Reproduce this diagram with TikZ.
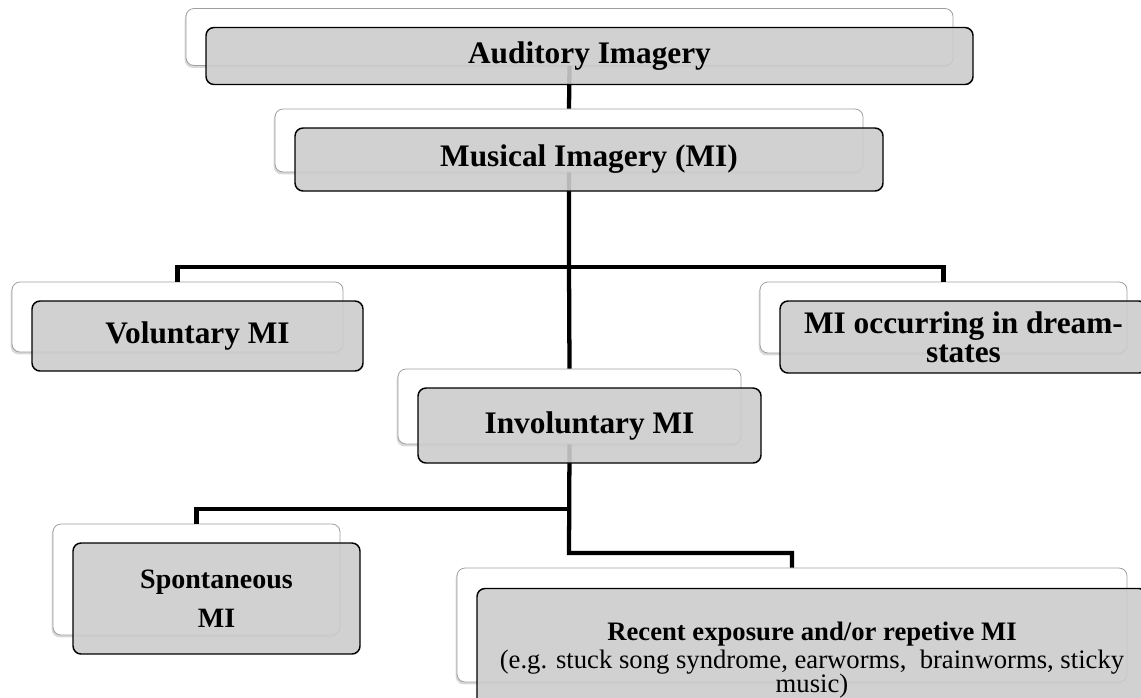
\documentclass[tikz,border=0pt]{standalone}
\usepackage{fontspec}
\setmainfont{Liberation Serif}
\usetikzlibrary{shadows}
\definecolor{boxgray}{RGB}{204,204,204}

\begin{document}
\begin{tikzpicture}[x=0.75pt,y=-0.75pt] % 1 unit = 1 px of the layout
\tikzstyle{back} = [draw=gray!75, line width=0.6pt, fill=white, rounded corners=6pt, drop shadow={shadow xshift=-1pt, shadow yshift=-1.8pt, opacity=0.3}] % white card behind
\tikzstyle{front} = [draw=black, line width=1.1pt, fill=boxgray, fill opacity=0.9, text opacity=1, rounded corners=6pt, align=center, inner sep=2pt, font=\bfseries\fontsize{23.5}{22}\selectfont] % grey card with text
\tikzstyle{conn} = [line width=3.2pt] % connector line
\useasboundingbox (0,0) rectangle (1141,697);

% back cards
\node[back, minimum width=575.25pt, minimum height=42.75pt] (audB) at (569.5,37) {};
\node[back, minimum width=441pt, minimum height=47.25pt] (musB) at (569,140.5) {};
\node[back, minimum width=248.25pt, minimum height=52.5pt] (volB) at (177.5,317) {};
\node[back, minimum width=275.25pt, minimum height=53.25pt] (dreB) at (943.5,317.5) {};
\node[back, minimum width=257.25pt, minimum height=56.25pt] (invB) at (569.5,406.5) {};
\node[back, minimum width=215.25pt, minimum height=83.25pt] (spoB) at (196.5,579.5) {};
\node[back, minimum width=502.5pt, minimum height=85.5pt] (recB) at (792,625) {};

% branch points
\coordinate (jMus) at (569,267);
\coordinate (jSpo) at (569,509);
\coordinate (jRec) at (569,553);

\draw[conn] (audB.south) -- (musB.north);
\draw[conn] (musB.south) -- (jMus) -- (invB.north);
\draw[conn] (jMus) -| (volB.north);
\draw[conn] (jMus) -| (dreB.north);
\draw[conn] (invB.south) -- (jRec) -| (recB.north);
\draw[conn] (jSpo) -| (spoB.north);

% front cards
\node[front, minimum width=575.25pt, minimum height=42.75pt] (audF) at ([shift={(20,19)}]audB) {Auditory Imagery};
\node[front, minimum width=441pt, minimum height=47.25pt] (musF) at ([shift={(20,19)}]musB) {Musical Imagery (MI)};
\node[front, minimum width=248.25pt, minimum height=52.5pt] (volF) at ([shift={(20,19)}]volB) {Voluntary MI};
\node[front, minimum width=275.25pt, minimum height=54pt] (dreF) at ([shift={(20,19.5)}]dreB) {MI occurring in dream-\\states};
\node[front, minimum width=257.25pt, minimum height=56.25pt] (invF) at ([shift={(20,19)}]invB) {Involuntary MI};
\node[front, minimum width=215.25pt, minimum height=83.25pt, font=\bfseries\fontsize{21}{29}\selectfont] (spoF) at ([shift={(20,19)}]spoB) {Spontaneous\\MI};
\node[front, minimum width=502.5pt, minimum height=107.25pt, font={\fontsize{20}{18}\selectfont\lineskiplimit -20pt\relax}] (recF) at ([shift={(20,35)}]recB) {\textbf{Recent exposure and/or repetive MI}\\[3pt](e.g. stuck song syndrome, earworms,~ brainworms, sticky\\music)};
\end{tikzpicture}
\end{document}
